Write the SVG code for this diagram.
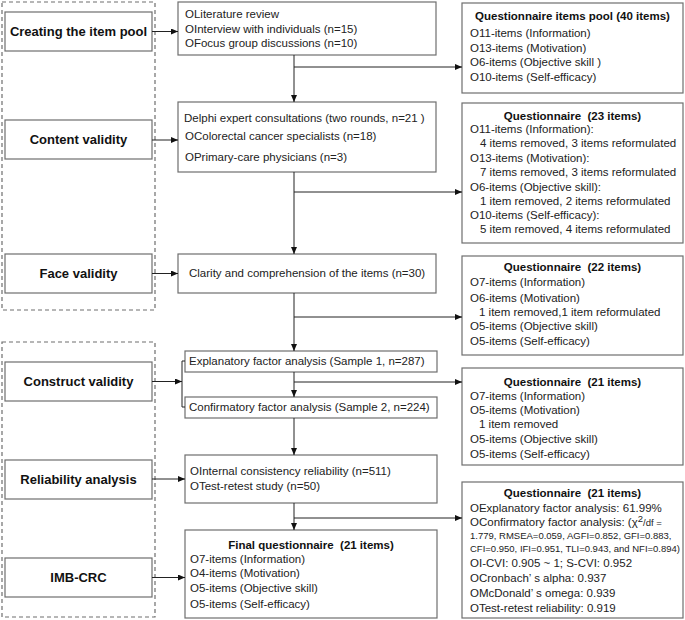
<svg xmlns="http://www.w3.org/2000/svg" width="685" height="620" viewBox="0 0 685 620">
<defs>
<marker id="ah" markerWidth="7" markerHeight="6" refX="7" refY="3" orient="auto" markerUnits="userSpaceOnUse">
<path d="M0,0 L7,3 L0,6 Z" fill="#111"/>
</marker>
<style>
.box{fill:#fff;stroke:#6e6e6e;stroke-width:1.2}
.dash{fill:none;stroke:#6e6e6e;stroke-width:1.2;stroke-dasharray:4,3}
.lbl{font-family:"Liberation Sans",Arial,sans-serif;font-weight:bold;font-size:13px;fill:#111;text-anchor:middle}
.t{font-family:"Liberation Sans",Arial,sans-serif;font-size:11.5px;fill:#222}
.tb{font-family:"Liberation Sans",Arial,sans-serif;font-size:11.5px;font-weight:bold;fill:#111;text-anchor:middle}
.ts{font-family:"Liberation Sans",Arial,sans-serif;font-size:9.5px;fill:#222}
.ln{fill:none;stroke:#222;stroke-width:1}
.ar{fill:none;stroke:#222;stroke-width:1;marker-end:url(#ah)}
</style>
</defs>
<rect class="dash" x="2" y="2" width="153" height="308"/>
<rect class="dash" x="2" y="342" width="153" height="275"/>

<g id="left-nodes">
<g id="n-pool"><rect class="box" x="5" y="12" width="147" height="39"/><text class="lbl" x="78.5" y="36">Creating the item pool</text></g>
<g id="n-content"><rect class="box" x="5" y="120" width="147" height="39"/><text class="lbl" x="78.5" y="144">Content validity</text></g>
<g id="n-face"><rect class="box" x="5" y="254" width="147" height="39"/><text class="lbl" x="78.5" y="278">Face validity</text></g>
<g id="n-construct"><rect class="box" x="5" y="362" width="147" height="39"/><text class="lbl" x="78.5" y="386">Construct validity</text></g>
<g id="n-reliab"><rect class="box" x="5" y="460" width="147" height="39"/><text class="lbl" x="78.5" y="484">Reliability analysis</text></g>
<g id="n-imb"><rect class="box" x="5" y="558" width="147" height="39"/><text class="lbl" x="78.5" y="582">IMB-CRC</text></g>
</g>

<g id="mid-nodes">
<g id="m-lit"><rect class="box" x="178" y="2" width="258" height="53"/>
<text class="t" x="185" y="18">OLiterature review</text>
<text class="t" x="185" y="33">OInterview with individuals (n=15)</text>
<text class="t" x="185" y="47">OFocus group discussions (n=10)</text></g>
<g id="m-delphi"><rect class="box" x="178" y="102" width="258" height="70"/>
<text class="t" x="184" y="122">Delphi expert consultations (two rounds, n=21 )</text>
<text class="t" x="185" y="140">OColorectal cancer specialists (n=18)</text>
<text class="t" x="185" y="161">OPrimary-care physicians (n=3)</text></g>
<g id="m-clarity"><rect class="box" x="178" y="254" width="258" height="39"/>
<text class="t" x="189" y="277">Clarity and comprehension of the items (n=30)</text></g>
<g id="m-efa"><rect class="box" x="185" y="351" width="252" height="21"/>
<text class="t" x="189" y="365">Explanatory factor analysis (Sample 1, n=287)</text></g>
<g id="m-cfa"><rect class="box" x="185" y="397" width="252" height="21"/>
<text class="t" x="189" y="411">Confirmatory factor analysis (Sample 2, n=224)</text></g>
<g id="m-rel"><rect class="box" x="185" y="455" width="252" height="48"/>
<text class="t" x="190" y="475">OInternal consistency reliability (n=511)</text>
<text class="t" x="190" y="490">OTest-retest study (n=50)</text></g>
<g id="m-final"><rect class="box" x="185" y="530" width="252" height="88"/>
<text class="tb" x="311" y="549">Final questionnaire&#160; (21 items)</text>
<text class="t" x="190" y="563">O7-items (Information)</text>
<text class="t" x="190" y="577">O4-items (Motivation)</text>
<text class="t" x="190" y="592">O5-items (Objective skill)</text>
<text class="t" x="190" y="608">O5-items (Self-efficacy)</text></g>
</g>

<g id="right-nodes">
<g id="r-pool"><rect class="box" x="462" y="3" width="221" height="90"/>
<text class="tb" x="572.5" y="20">Questionnaire items pool (40 items)</text>
<text class="t" x="470" y="37">O11-items (Information)</text>
<text class="t" x="470" y="52">O13-items (Motivation)</text>
<text class="t" x="470" y="66">O6-items (Objective skill )</text>
<text class="t" x="470" y="81">O10-items (Self-efficacy)</text></g>
<g id="r-23"><rect class="box" x="462" y="103" width="221" height="140"/>
<text class="tb" x="572.5" y="120">Questionnaire&#160; (23 items)</text>
<text class="t" x="470" y="133">O11-items (Information):</text>
<text class="t" x="480" y="147">4 items removed, 3 items reformulated</text>
<text class="t" x="470" y="162">O13-items (Motivation):</text>
<text class="t" x="480" y="176">7 items removed, 3 items reformulated</text>
<text class="t" x="470" y="191">O6-items (Objective skill):</text>
<text class="t" x="480" y="205">1 item removed, 2 items reformulated</text>
<text class="t" x="470" y="219">O10-items (Self-efficacy):</text>
<text class="t" x="480" y="233">5 item removed, 4 items reformulated</text></g>
<g id="r-22"><rect class="box" x="462" y="256" width="221" height="99"/>
<text class="tb" x="572.5" y="271">Questionnaire&#160; (22 items)</text>
<text class="t" x="470" y="286">O7-items (Information)</text>
<text class="t" x="470" y="302">O6-items (Motivation)</text>
<text class="t" x="479" y="316">1 item removed,1 item reformulated</text>
<text class="t" x="470" y="330">O5-items (Objective skill)</text>
<text class="t" x="470" y="345">O5-items (Self-efficacy)</text></g>
<g id="r-21a"><rect class="box" x="462" y="368" width="221" height="97"/>
<text class="tb" x="572.5" y="386">Questionnaire&#160; (21 items)</text>
<text class="t" x="470" y="400">O7-items (Information)</text>
<text class="t" x="470" y="414">O5-items (Motivation)</text>
<text class="t" x="479" y="428">1 item removed</text>
<text class="t" x="470" y="443">O5-items (Objective skill)</text>
<text class="t" x="470" y="458">O5-items (Self-efficacy)</text></g>
<g id="r-21b"><rect class="box" x="462" y="482" width="221" height="136"/>
<text class="tb" x="572.5" y="497">Questionnaire&#160; (21 items)</text>
<text class="t" x="470" y="512">OExplanatory factor analysis: 61.99%</text>
<text class="t" x="470" y="526">OConfirmatory factor analysis: (χ<tspan class="ts" font-size="7" dy="-4">2</tspan><tspan class="ts" dy="4">/df =</tspan></text>
<text class="ts" x="470" y="539">1.779, RMSEA=0.059, AGFI=0.852, GFI=0.883,</text>
<text class="ts" x="470" y="552">CFI=0.950, IFI=0.951, TLI=0.943, and NFI=0.894)</text>
<text class="t" x="470" y="567">OI-CVI: 0.905 ~ 1; S-CVI: 0.952</text>
<text class="t" x="470" y="582">OCronbach’ s alpha: 0.937</text>
<text class="t" x="470" y="597">OMcDonald’ s omega: 0.939</text>
<text class="t" x="470" y="612">OTest-retest reliability: 0.919</text></g>
</g>

<g id="connectors">
<line class="ar" x1="152" y1="31.5" x2="178" y2="31.5"/>
<line class="ar" x1="152" y1="140" x2="178" y2="140"/>
<line class="ar" x1="152" y1="273.5" x2="178" y2="273.5"/>
<line class="ar" x1="152" y1="381.5" x2="182" y2="381.5"/>
<path class="ln" d="M185,361 H182 V407 H185"/>
<line class="ar" x1="152" y1="479" x2="185" y2="479"/>
<line class="ar" x1="152" y1="577.5" x2="185" y2="577.5"/>

<line class="ar" x1="294" y1="55" x2="294" y2="102"/>
<line class="ar" x1="294" y1="67" x2="462" y2="67"/>
<line class="ar" x1="294" y1="172" x2="294" y2="254"/>
<line class="ar" x1="294" y1="192" x2="462" y2="192"/>
<line class="ar" x1="294" y1="293" x2="294" y2="351"/>
<line class="ar" x1="294" y1="317" x2="462" y2="317"/>
<line class="ar" x1="294" y1="372" x2="294" y2="397"/>
<line class="ar" x1="294" y1="382" x2="462" y2="382"/>
<line class="ar" x1="294" y1="418" x2="294" y2="455"/>
<line class="ar" x1="294" y1="503" x2="294" y2="530"/>
<line class="ar" x1="294" y1="518" x2="462" y2="518"/>
</g>
</svg>
